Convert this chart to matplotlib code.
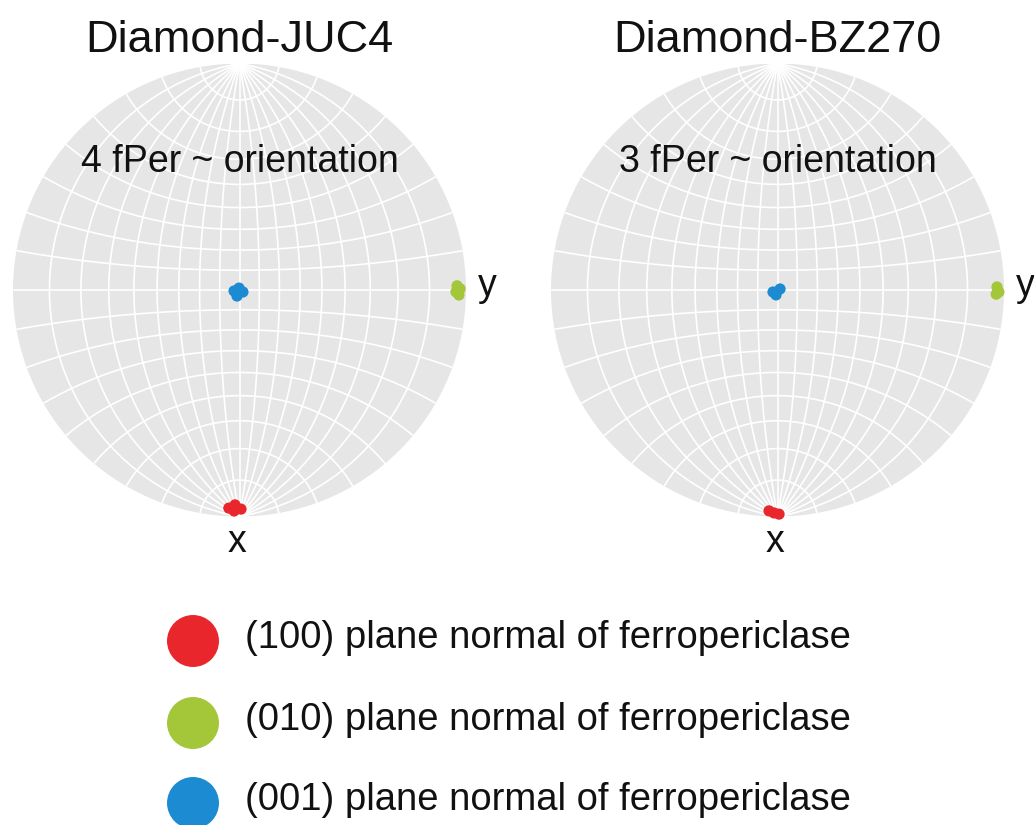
import numpy as np
import matplotlib
matplotlib.use("Agg")
import matplotlib.pyplot as plt
from matplotlib.patches import Circle

plt.rcParams['font.family'] = ['Liberation Sans', 'DejaVu Sans']

W, H, DPI = 1034, 825, 100

# Orientation data: trend (deg, clockwise from N) and plunge (deg) of each pole
titles = ["Diamond-JUC4", "Diamond-BZ270"]
subtitles = ["4 fPer ~ orientation", "3 fPer ~ orientation"]

juc4_100_trend = [182.8, 181.2, 179.6, 181.4]
juc4_100_plunge = [2.1, 3.0, 1.9, 1.4]
juc4_010_trend = [88.9, 89.7, 90.5, 91.3]
juc4_010_plunge = [2.3, 1.5, 2.6, 1.8]
juc4_001_trend = [260.0, 346.0, 119.6, 202.5]
juc4_001_plunge = [87.2, 89.0, 88.0, 86.7]

bz270_100_trend = [182.2, 180.9, 179.6]
bz270_100_plunge = [1.4, 0.9, 0.6]
bz270_010_trend = [89.2, 90.5, 91.1]
bz270_010_plunge = [1.8, 1.3, 2.0]
bz270_001_trend = [246.1, 68.2, 196.6]
bz270_001_plunge = [87.5, 88.6, 87.4]

legend_labels = ["(100) plane normal of ferropericlase",
                 "(010) plane normal of ferropericlase",
                 "(001) plane normal of ferropericlase"]
colors = ["#e8262b", "#a4c639", "#1c8bd2"]

datasets = [
    [(juc4_100_trend, juc4_100_plunge), (juc4_010_trend, juc4_010_plunge),
     (juc4_001_trend, juc4_001_plunge)],
    [(bz270_100_trend, bz270_100_plunge), (bz270_010_trend, bz270_010_plunge),
     (bz270_001_trend, bz270_001_plunge)],
]


def stereo(trend, plunge):
    """Equal-angle (Wulff) lower-hemisphere projection."""
    t = np.radians(np.asarray(trend, float))
    p = np.radians(np.asarray(plunge, float))
    x = np.cos(p) * np.sin(t)
    y = np.cos(p) * np.cos(t)
    z = np.sin(p)
    return x / (1 + z), y / (1 + z)


def sphere_to_plane(lon, lat):
    x = np.cos(lat) * np.sin(lon)
    y = np.sin(lat)
    z = np.cos(lat) * np.cos(lon)
    return x / (1 + z), y / (1 + z)


def draw_net(ax):
    bg = Circle((0, 0), 1, facecolor="#e6e6e6", edgecolor="none", zorder=0)
    ax.add_patch(bg)
    s = np.radians(np.linspace(-90, 90, 721))
    for deg in range(-80, 90, 10):
        # great circles through N and S
        gx, gy = sphere_to_plane(np.radians(deg), s)
        ax.plot(gx, gy, color="white", lw=1.2, zorder=1, solid_capstyle="butt")
        # small circles about the N-S axis
        cx, cy = sphere_to_plane(s, np.radians(deg))
        ax.plot(cx, cy, color="white", lw=1.2, zorder=1, solid_capstyle="butt")
    ax.set_xlim(-1, 1)
    ax.set_ylim(-1, 1)
    ax.axis("off")


fig = plt.figure(figsize=(W / DPI, H / DPI), dpi=DPI)

R = 226.5
centers = [(239.5, 290.0), (777.5, 290.0)]

for i, (cx, cy) in enumerate(centers):
    ax = fig.add_axes([(cx - R) / W, (H - cy - R) / H, 2 * R / W, 2 * R / H])
    draw_net(ax)
    for (tr, pl), col in zip(datasets[i], colors):
        px, py = stereo(tr, pl)
        ax.scatter(px, py, s=65, color=col, edgecolors="none", zorder=3, clip_on=False)

# overlay axes in pixel units for the text and legend
ov = fig.add_axes([0, 0, 1, 1], facecolor="none")
ov.set_xlim(0, W)
ov.set_ylim(H, 0)
ov.axis("off")

for i, (cx, cy) in enumerate(centers):
    ov.text(cx, 40, titles[i], ha="center", va="center", fontsize=32.5, color="#111111")
    ov.text(cx, 162, subtitles[i], ha="center", va="center", fontsize=27, color="#111111")
    ov.text(cx + R + 21, cy - 4, "y", ha="center", va="center", fontsize=27, color="#111111")
    ov.text(cx - 3, cy + R + 25, "x", ha="center", va="center", fontsize=27, color="#111111")

leg_y = [641, 723, 803]
for lab, col, y in zip(legend_labels, colors, leg_y):
    ov.scatter([193], [y], s=1400, color=col, edgecolors="none", clip_on=False)
    ov.text(245, y - 3, lab, ha="left", va="center", fontsize=27.5, color="#111111")

fig.savefig("out.png", dpi=DPI, facecolor="white")
